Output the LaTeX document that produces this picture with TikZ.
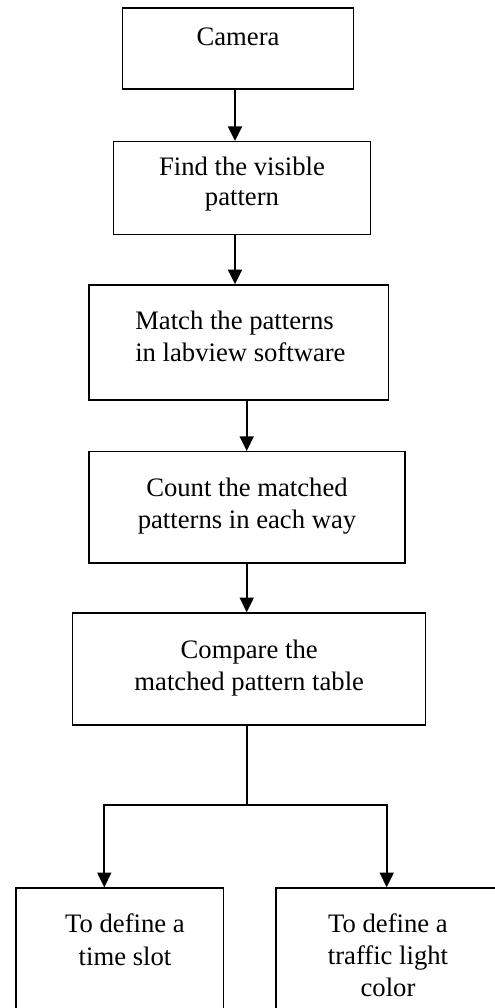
\documentclass[tikz,border=0pt]{standalone}
\usepackage{fontspec}
\setmainfont{Liberation Serif}
\usetikzlibrary{arrows.meta}
\begin{document}
\begin{tikzpicture}[x=0.75pt,y=-0.75pt,
  box/.style={draw=black,line width=1.1pt,rectangle,inner sep=0pt,fill=white},
  txt/.style={inner sep=0pt,anchor=base,align=center,font=\fontsize{20}{24}\selectfont},
  arr/.style={line width=1.3pt,-{Triangle[width=10.5pt,length=11pt]}},
  ln/.style={line width=1.3pt}]
\clip (0,0) rectangle (495,1008);
\fill[white] (0,0) rectangle (495,1008);
% boxes
\node[box,minimum width=230.6*0.75pt,minimum height=81*0.75pt] (cam) at (238,48.5) {};
\node[box,minimum width=257.4*0.75pt,minimum height=92.6*0.75pt] (find) at (242,188) {};
\node[box,minimum width=299.3*0.75pt,minimum height=115*0.75pt] (match) at (238.65,342.5) {};
\node[box,minimum width=316*0.75pt,minimum height=111.3*0.75pt] (count) at (247,507.35) {};
\node[box,minimum width=353*0.75pt,minimum height=112*0.75pt] (comp) at (249.2,669) {};
\node[box,minimum width=207.3*0.75pt,minimum height=152*0.75pt] (left) at (119.65,964) {};
\node[box,minimum width=232*0.75pt,minimum height=152*0.75pt] (right) at (392,964) {};
% texts (anchor base = baseline of last line)
\node[txt] (tcam) at (238,45) {Camera};
\node[txt,font=\fontsize{20}{22}\selectfont] (tfind) at (242,205) {Find the visible\\pattern};
\node[txt,anchor=base west,align=left] (tmatch) at (135,361.7) {Match the patterns\\in labview software};
\node[txt] (tcount) at (247,528) {Count the matched\\patterns in each way};
\node[txt] (tcomp) at (249.2,690) {Compare the\\matched pattern table};
\node[txt,font=\fontsize{20}{24.5}\selectfont] (tleft) at (125,965) {To define a\\time slot};
\node[txt,font=\fontsize{20}{24}\selectfont] (tright) at (388,996.7) {To define a\\traffic light\\color};
% columns
\coordinate (colA) at (235,0);
\coordinate (colB) at (246.7,0);
\coordinate (split) at (246.7,805);
\coordinate (lx) at (104.3,805);
\coordinate (rx) at (386.7,805);
% connectors
\draw[arr] (cam.south -| colA) -- (find.north -| colA);
\draw[arr] (find.south -| colA) -- (match.north -| colA);
\draw[arr] (match.south -| colB) -- (count.north -| colB);
\draw[arr] (count.south -| colB) -- (comp.north -| colB);
\draw[ln] (comp.south -| colB) -- (split);
\draw[arr] (split) -- (lx) -- (lx |- left.north);
\draw[arr] (split) -- (rx) -- (rx |- right.north);
\end{tikzpicture}
\end{document}
